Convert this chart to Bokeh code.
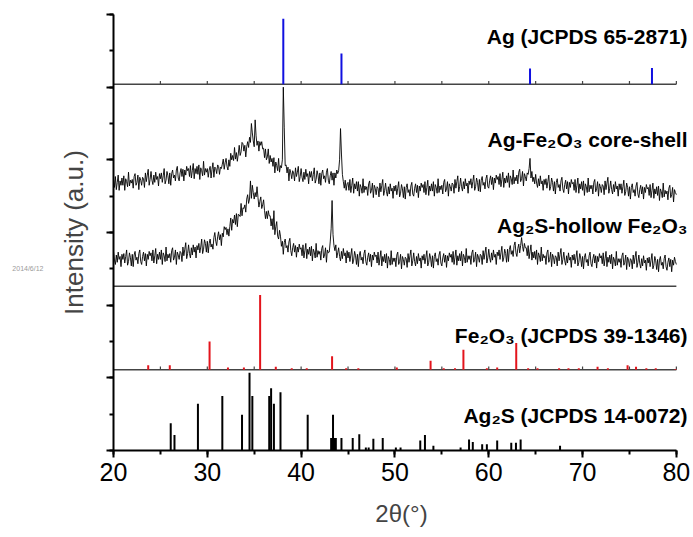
import numpy as np
from bokeh.plotting import figure
from bokeh.models import (Range1d, SingleIntervalTicker, FixedTicker, Label, LinearAxis,
                          ColumnDataSource)
from bokeh.embed import file_html
from bokeh.resources import INLINE

# ---------------- data ----------------
two_theta_start = 20.0
two_theta_step = 0.1

# Ag-Fe2O3 core-shell XRD (a.u.), 20.0 .. 80.0 deg, one row per degree
core_shell = [
    43,32,47,29,39,49,28,41,35,45, 35,48,28,44,40,33,53,34,42,38,
    43,31,47,51,35,39,49,29,46,42, 35,46,44,32,52,40,49,57,35,43,
    54,42,36,49,39,53,43,47,34,51, 44,52,39,48,58,37,42,54,48,37,
    52,35,51,56,45,49,41,56,61,45, 41,52,58,47,57,41,56,49,61,55,
    58,47,62,45,55,65,44,58,51,61, 50,63,43,59,55,48,68,49,58,53,
    58,46,56,61,45,57,66,46,60,58, 51,63,61,50,60,58,64,71,57,66,
    72,61,56,70,61,79,70,76,69,87, 71,80,68,78,90,76,81,94,92,82,
    90,74,88,95,87,101,94,120,107,96, 88,125,103,90,96,82,95,90,95,85,
    86,73,85,70,74,85,65,76,67,72, 61,73,52,67,62,55,72,53,62,59,
    70,170,115,62,63,52,60,41,57,52, 44,55,52,41,59,47,53,61,40,47,
    58,46,40,53,43,57,47,51,37,54, 46,54,41,50,59,38,43,55,49,37,
    52,35,51,56,44,48,39,53,58,42, 37,48,54,42,52,35,52,45,56,51,
    55,70,113,78,50,40,31,42,28,37, 39,28,43,25,35,45,24,37,30,40,
    27,40,20,36,32,24,44,25,34,29, 33,21,37,41,24,28,38,18,35,31,
    22,33,31,19,38,26,35,43,21,28, 38,26,20,33,23,37,27,31,17,34,
    27,35,22,31,40,19,24,36,30,18, 33,16,32,37,25,29,20,34,39,23,
    20,31,37,25,35,18,34,27,38,32, 36,25,40,22,32,42,21,34,27,37,
    27,40,20,36,32,24,44,25,34,29, 35,23,39,43,26,30,40,20,37,33,
    27,38,36,24,43,31,40,48,26,33, 45,33,27,40,30,44,34,38,24,41,
    36,44,31,40,49,28,33,45,39,27, 43,26,42,47,35,39,30,44,49,33,
    31,42,48,36,46,29,45,38,49,43, 47,36,51,33,43,53,32,45,38,48,
    39,52,32,48,44,36,56,37,46,41, 49,37,53,57,40,44,54,34,51,47,
    41,52,50,58,72,45,54,40,46,37, 50,38,32,44,34,48,37,41,28,43,
    36,44,31,40,49,28,33,45,39,27, 40,23,39,44,32,36,27,41,46,30,
    25,36,42,30,40,23,39,32,43,37, 39,28,43,25,35,45,24,37,30,40,
    28,41,21,37,33,25,45,26,35,30, 35,23,39,43,26,30,40,20,37,33,
    25,36,34,22,41,29,38,46,24,31, 41,29,23,36,26,40,30,34,20,37,
    29,37,24,33,42,21,26,38,32,20, 33,16,32,37,25,29,20,34,39,23,
    18,29,35,23,33,16,32,25,36,30, 32,21,36,18,28,38,17,30,23,33,
    21,34,14,30,26,18,38,19,28,23, 27,15,31,35,18,22,32,12,29,25,
    22,
]

# Ag2S-hollow Fe2O3 XRD (a.u.)
hollow = [
    39,27,21,34,24,38,28,32,18,35, 28,36,23,32,41,20,25,37,31,19,
    35,18,34,39,27,31,22,36,41,25, 21,32,38,26,36,19,35,28,39,33,
    37,26,41,23,33,43,22,35,28,38, 28,41,21,37,33,25,45,26,35,30,
    36,24,40,44,27,31,41,21,38,34, 28,39,37,25,45,33,42,51,29,36,
    48,36,30,44,34,48,38,45,30,47, 41,50,37,45,56,36,42,55,50,38,
    53,37,50,56,45,49,42,58,65,53, 47,59,66,55,62,47,64,59,73,69,
    72,62,70,60,73,85,68,83,78,89, 76,91,73,90,89,87,105,88,99,98,
    103,93,111,117,105,111,136,112,130,120, 111,120,114,128,113,100,108,114,98,103,
    110,95,84,94,84,95,88,88,74,84, 69,95,62,73,80,60,56,68,60,46,
    53,35,51,56,44,47,38,52,57,40, 33,44,50,38,47,31,45,38,49,42,
    44,33,48,30,40,50,29,42,35,45, 33,46,26,42,38,30,50,31,40,35,
    39,27,43,47,30,34,44,24,41,37, 38,52,70,109,62,47,40,48,30,37,
    44,32,26,39,29,43,33,37,23,40, 30,38,25,34,43,22,27,39,33,21,
    35,18,34,39,27,31,22,36,41,25, 20,31,37,25,35,18,34,27,38,32,
    34,23,38,20,30,40,19,32,25,35, 23,36,16,32,28,20,40,21,30,25,
    30,18,34,38,21,25,35,15,32,28, 20,31,29,17,36,24,33,41,19,26,
    37,25,19,32,22,36,26,30,16,33, 27,35,22,31,40,19,24,36,30,18,
    33,16,32,37,25,29,20,34,39,23, 19,30,36,24,34,17,33,26,37,31,
    35,24,39,21,31,41,20,33,26,36, 26,39,19,35,31,23,43,24,33,28,
    33,21,37,41,24,28,38,18,35,31, 24,35,33,21,40,28,37,45,23,30,
    42,30,24,37,27,41,31,35,21,38, 33,41,28,37,46,25,30,42,36,24,
    42,25,42,47,35,40,32,47,52,37, 32,43,49,37,47,58,46,39,50,44,
    44,33,47,29,39,48,27,38,30,39, 28,41,21,37,33,25,45,26,35,30,
    33,21,37,41,24,28,38,18,35,31, 22,33,31,19,38,26,35,43,21,28,
    38,26,20,33,23,37,27,31,17,34, 27,35,22,31,40,19,24,36,30,18,
    32,15,31,36,24,28,19,33,38,22, 18,29,35,23,33,16,32,25,36,30,
    33,22,37,19,29,39,18,31,24,34, 22,35,15,31,27,19,39,20,29,24,
    29,17,33,37,20,24,34,14,31,27, 18,29,27,15,34,22,31,39,17,24,
    34,22,16,29,19,33,23,27,13,30, 23,31,18,27,36,15,20,32,26,14,
    28,11,27,32,20,24,15,29,34,18, 13,24,30,18,28,11,27,20,31,25,
    21,
]

# Ag reference (JCPDS 65-2871)
ag_pos = [38.1, 44.3, 64.4, 77.4]
ag_int = [100, 47, 24, 25]

# Fe2O3 reference (JCPDS 39-1346)
fe_pos = [23.7, 26.0, 30.24, 32.2, 33.9, 35.63, 37.3, 39.0, 40.6, 43.3, 44.8, 46.1,
          50.2, 53.8, 55.2, 56.4, 57.3, 59.8, 60.9, 62.93, 64.2, 65.2, 67.5, 68.5,
          69.6, 71.6, 72.7, 74.8, 75.7, 76.8, 77.8, 79.9]
fe_int = [6, 6, 38, 3, 3, 100, 4, 2, 2, 18, 2, 2,
          3, 12, 2, 2, 27, 2, 3, 36, 2, 2, 2, 2,
          2, 4, 2, 6, 4, 2, 2, 1]

# Ag2S reference (JCPDS 14-0072)
ags_pos = [26.1, 26.5, 29.0, 31.6, 33.7, 34.5, 34.8, 36.6, 36.8, 37.1, 37.8, 40.7,
           43.2, 43.3, 43.4, 43.5, 43.6, 43.7, 44.3, 45.5, 46.2, 46.9, 47.2, 47.7,
           48.7, 50.1, 50.6, 52.7, 53.2, 54.1, 57.0, 57.9, 58.3, 59.3, 59.8, 60.9,
           62.4, 62.9, 63.4, 67.6]
ags_int = [35, 20, 60, 70, 46, 100, 70, 70, 80, 60, 75, 46,
           16, 16, 46, 16, 16, 16, 16, 16, 21, 4, 4, 15,
           16, 4, 4, 13, 20, 6, 4, 14, 11, 8, 8, 13,
           10, 10, 14, 6]

panel_labels = ["Ag (JCPDS 65-2871)", "Ag-Fe\u2082O\u2083 core-shell",
                "Ag\u2082S-hollow Fe\u2082O\u2083", "Fe\u2082O\u2083 (JCPDS 39-1346)",
                "Ag\u2082S (JCPDS 14-0072)"]
sep_tick_x = [25, 30, 35, 40, 45, 50, 55, 60, 65, 70, 75, 80]
y_title = "Intensity (a.u.)"
x_title = "2\u03b8(\u00b0)"
stamp_text = "2014/6/12"

# ---------------- layout / style ----------------
X0, X1 = 20, 80
X_PAD = 1.4          # room on the right for the panel labels
FONT = "Liberation Sans"

p = figure(frame_width=576, frame_height=436,
           min_border_left=113, min_border_right=4, min_border_top=14, min_border_bottom=85,
           x_range=Range1d(X0, X1 + X_PAD), y_range=Range1d(0, 6),
           output_backend="svg", toolbar_location=None)
p.outline_line_color = None
p.xgrid.visible = False
p.ygrid.visible = False
p.background_fill_color = "white"
p.border_fill_color = "white"

for ax in (p.xaxis[0], p.yaxis[0]):
    ax.axis_line_width = 2
    ax.axis_line_color = "black"
    ax.major_tick_line_width = 2
    ax.minor_tick_line_width = 2
    ax.major_tick_line_color = "black"
    ax.minor_tick_line_color = "black"
    ax.major_tick_in = 0
    ax.minor_tick_in = 0

p.xaxis.bounds = (X0, X1)
p.xaxis.ticker = SingleIntervalTicker(interval=10, num_minor_ticks=2)
p.xaxis.major_tick_out = 7
p.xaxis.minor_tick_out = 4
p.xaxis.major_label_text_font = FONT
p.xaxis.major_label_text_font_size = "25px"
p.xaxis.major_label_text_color = "black"
p.xaxis.major_label_standoff = 5
p.xaxis.axis_label = x_title
p.xaxis.axis_label_text_font = FONT
p.xaxis.axis_label_text_font_style = "normal"
p.xaxis.axis_label_text_font_size = "24px"
p.xaxis.axis_label_standoff = 16

p.yaxis.ticker = SingleIntervalTicker(interval=1, num_minor_ticks=2)
p.yaxis.major_tick_out = 7
p.yaxis.minor_tick_out = 4
p.yaxis.major_label_overrides = {i: "" for i in range(7)}
p.yaxis.major_label_standoff = 0
p.yaxis.axis_label = y_title
p.yaxis.axis_label_text_font = FONT
p.yaxis.axis_label_text_font_style = "normal"
p.yaxis.axis_label_text_font_size = "26px"
p.yaxis.axis_label_standoff = 18

STAMP_Y = 2.5
stamp_axis = LinearAxis(ticker=FixedTicker(ticks=[STAMP_Y], minor_ticks=[]),
                        major_label_overrides={STAMP_Y: stamp_text},
                        axis_line_color=None, major_tick_line_color=None,
                        minor_tick_line_color=None, major_tick_out=0, major_tick_in=0,
                        major_label_standoff=12, major_label_text_font=FONT,
                        major_label_text_font_size="7px", major_label_text_color="#9a9a9a")
p.add_layout(stamp_axis, "left")

# panel geometry (axis units)
AG_BASE, AG_SCALE = 5.04, 0.90 / 100
XRD_BOTTOM = 2.26
FE_BASE, FE_SCALE = 1.11, 1.03 / 100
AGS_BASE, AGS_SCALE = 0.0, 1.07 / 100
CS_OFF, HO_OFF, XRD_SCALE = 3.30, 2.35, 0.01
SEP_TICK = 0.045

for yb in (AG_BASE, XRD_BOTTOM, FE_BASE):
    p.segment(x0=[X0], y0=[yb], x1=[X1], y1=[yb], line_color="#444444", line_width=1.5)
for yb in (AG_BASE, FE_BASE):
    p.segment(x0=sep_tick_x, y0=[yb] * len(sep_tick_x),
              x1=sep_tick_x, y1=[yb + SEP_TICK] * len(sep_tick_x),
              line_color="#444444", line_width=1.2)

xs = two_theta_start + two_theta_step * np.arange(len(core_shell))
p.line(xs, CS_OFF + XRD_SCALE * np.array(core_shell), line_color="black", line_width=0.9)
xs2 = two_theta_start + two_theta_step * np.arange(len(hollow))
p.line(xs2, HO_OFF + XRD_SCALE * np.array(hollow), line_color="black", line_width=0.9)

def sticks(pos, inten, base, scale, color):
    src = ColumnDataSource(dict(x=pos, y0=[base] * len(pos),
                                y1=[base + scale * v for v in inten]))
    p.segment(x0="x", y0="y0", x1="x", y1="y1", source=src, line_color=color, line_width=2)

sticks(ag_pos, ag_int, AG_BASE, AG_SCALE, "#1010e0")
sticks(fe_pos, fe_int, FE_BASE, FE_SCALE, "#e3141c")
sticks(ags_pos, ags_int, AGS_BASE, AGS_SCALE, "black")

label_y = [5.70, 4.28, 3.10, 1.58, 0.48]
for txt, yy in zip(panel_labels, label_y):
    p.add_layout(Label(x=X1 + X_PAD, y=yy, x_offset=-2, text=txt, text_align="right",
                       text_baseline="middle", text_font=FONT, text_font_style="bold",
                       text_font_size="21px", text_color="black"))

open("out.html", "w").write(file_html(p, INLINE))
